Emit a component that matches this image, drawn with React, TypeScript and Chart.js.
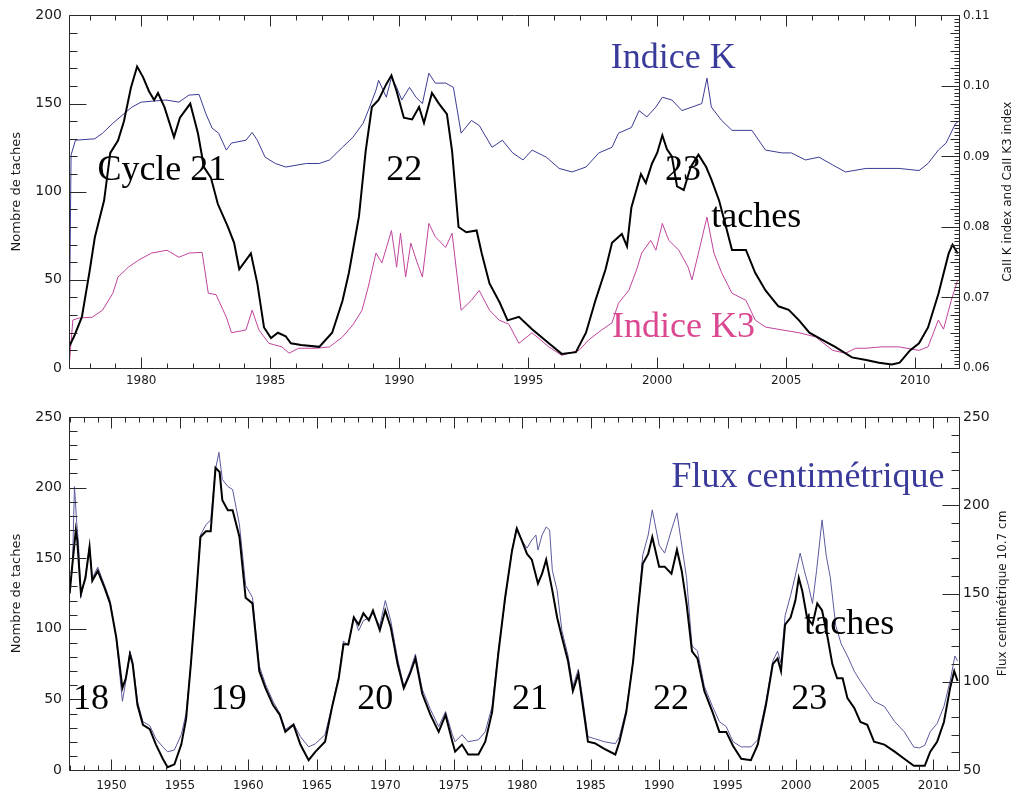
import React, { useEffect, useRef } from "react";
import { Chart, registerables } from "chart.js";

Chart.register(...registerables);

const SERIF = '"Liberation Serif", "Times New Roman", serif';
const SANS = '"DejaVu Sans", Verdana, sans-serif';

type Pt = [number, number];

// ---------- Top panel (1977-2012) ----------
const topSunspots: Pt[] = [
  [1977.2, 12], [1977.4, 18], [1977.7, 29], [1978.0, 55], [1978.2, 74], [1978.56, 95], [1978.8, 122],
  [1979.1, 129], [1979.33, 140], [1979.6, 159], [1979.84, 171], [1980.07, 165], [1980.3, 157],
  [1980.5, 152], [1980.65, 156], [1980.9, 148], [1981.27, 131], [1981.5, 142], [1981.9, 150],
  [1982.2, 133], [1982.43, 114], [1982.7, 108], [1982.97, 93], [1983.36, 80], [1983.6, 71],
  [1983.8, 56], [1984.25, 65], [1984.5, 48], [1984.76, 23], [1985.03, 17], [1985.3, 20], [1985.6, 18],
  [1985.8, 14], [1986.2, 13], [1986.9, 12], [1987.4, 20], [1987.8, 38], [1988.05, 54], [1988.44, 86],
  [1988.7, 123], [1988.94, 148], [1989.2, 152], [1989.5, 161], [1989.7, 166], [1989.9, 157],
  [1990.18, 142], [1990.5, 141], [1990.77, 148], [1990.96, 139], [1991.27, 156], [1991.54, 150],
  [1991.85, 144], [1992.05, 123], [1992.3, 80], [1992.6, 77], [1993.0, 78], [1993.2, 65], [1993.5, 48],
  [1993.9, 37], [1994.2, 27], [1994.64, 29], [1995.15, 22], [1995.8, 14], [1996.3, 8], [1996.85, 9],
  [1997.24, 20], [1997.6, 38], [1998.0, 56], [1998.25, 71], [1998.63, 76], [1998.83, 69], [1999.0, 91],
  [1999.37, 110], [1999.56, 105], [1999.8, 116], [2000.0, 122], [2000.2, 132], [2000.38, 124],
  [2000.57, 120], [2000.77, 103], [2001.03, 101], [2001.3, 114], [2001.6, 121], [2001.9, 114],
  [2002.1, 107], [2002.4, 95], [2002.67, 80], [2002.9, 67], [2003.44, 67], [2003.8, 54], [2004.2, 44],
  [2004.7, 35], [2005.1, 33], [2005.5, 27], [2005.9, 20], [2006.4, 16], [2006.9, 12], [2007.55, 6],
  [2008.1, 4.5], [2008.6, 3], [2009.1, 2], [2009.4, 3], [2009.8, 10], [2010.15, 14], [2010.5, 23],
  [2010.9, 42], [2011.3, 65], [2011.45, 70], [2011.65, 65],
];

const topIndexK: Pt[] = [
  [1977.2, 0.0605], [1977.28, 0.0902], [1977.45, 0.0923], [1978.2, 0.0925], [1978.5, 0.0933],
  [1978.9, 0.0947], [1979.25, 0.0958], [1979.64, 0.097], [1980.0, 0.0977], [1980.96, 0.098],
  [1981.46, 0.0977], [1981.85, 0.0987], [1982.24, 0.0988], [1982.5, 0.0961], [1982.75, 0.094],
  [1983.0, 0.0933], [1983.3, 0.0909], [1983.5, 0.0919], [1984.06, 0.0923], [1984.3, 0.0934],
  [1984.5, 0.0923], [1984.8, 0.0899], [1985.2, 0.089], [1985.6, 0.0885], [1986.4, 0.089],
  [1986.9, 0.089], [1987.3, 0.0895], [1987.8, 0.0913], [1988.2, 0.0927], [1988.6, 0.0947],
  [1988.8, 0.0965], [1989.1, 0.0994], [1989.2, 0.1008], [1989.5, 0.0984], [1989.7, 0.1012],
  [1989.9, 0.0998], [1990.1, 0.098], [1990.4, 0.0998], [1990.65, 0.0984], [1990.9, 0.0975],
  [1991.15, 0.1018], [1991.4, 0.1004], [1991.8, 0.1004], [1992.1, 0.0998], [1992.4, 0.0933],
  [1992.8, 0.0951], [1993.1, 0.0944], [1993.6, 0.0913], [1994.0, 0.0923], [1994.4, 0.0905],
  [1994.8, 0.0895], [1995.15, 0.0909], [1995.7, 0.0899], [1996.2, 0.0883], [1996.7, 0.0878],
  [1997.24, 0.0885], [1997.74, 0.0905], [1998.25, 0.0913], [1998.5, 0.0933], [1999.0, 0.0941],
  [1999.3, 0.0965], [1999.6, 0.0956], [1999.95, 0.097], [2000.2, 0.0984], [2000.57, 0.098],
  [2000.96, 0.0965], [2001.35, 0.097], [2001.73, 0.0975], [2001.93, 0.1011], [2002.1, 0.097],
  [2002.5, 0.0951], [2002.9, 0.0937], [2003.67, 0.0937], [2004.2, 0.0909], [2004.84, 0.0905],
  [2005.2, 0.0905], [2005.75, 0.0895], [2006.27, 0.0899], [2006.8, 0.0888], [2007.3, 0.0878],
  [2008.1, 0.0883], [2009.37, 0.0883], [2010.15, 0.088], [2010.5, 0.089], [2010.9, 0.0909],
  [2011.2, 0.0919], [2011.57, 0.0947], [2011.7, 0.095],
];

const topIndexK3: Pt[] = [
  [1977.2, 0.06], [1977.35, 0.0668], [1977.6, 0.0671], [1978.1, 0.0672], [1978.5, 0.0682],
  [1978.9, 0.0706], [1979.1, 0.0729], [1979.5, 0.0743], [1979.9, 0.0753], [1980.4, 0.0763],
  [1981.0, 0.0767], [1981.46, 0.0757], [1981.85, 0.0763], [1982.36, 0.0764], [1982.6, 0.0706],
  [1982.9, 0.0704], [1983.3, 0.0672], [1983.5, 0.065], [1984.06, 0.0654], [1984.3, 0.0682],
  [1984.56, 0.0654], [1984.95, 0.0635], [1985.45, 0.063], [1985.73, 0.0621], [1986.1, 0.0628],
  [1986.8, 0.0628], [1987.3, 0.063], [1987.8, 0.0644], [1988.2, 0.0661], [1988.56, 0.0682],
  [1988.8, 0.0715], [1989.1, 0.0763], [1989.33, 0.0749], [1989.7, 0.0795], [1989.9, 0.0743],
  [1990.05, 0.0791], [1990.25, 0.0729], [1990.45, 0.0777], [1990.7, 0.0749], [1990.9, 0.0729],
  [1991.15, 0.0805], [1991.4, 0.0786], [1991.8, 0.0771], [1992.05, 0.0791], [1992.4, 0.0682],
  [1992.8, 0.0696], [1993.1, 0.071], [1993.5, 0.0682], [1993.87, 0.0668], [1994.25, 0.0662],
  [1994.64, 0.0635], [1995.15, 0.065], [1995.8, 0.063], [1996.3, 0.0618], [1996.97, 0.0625],
  [1997.35, 0.064], [1997.85, 0.0654], [1998.25, 0.0664], [1998.5, 0.0692], [1998.9, 0.071],
  [1999.2, 0.0739], [1999.4, 0.0763], [1999.75, 0.0781], [1999.95, 0.0767], [2000.2, 0.0805],
  [2000.45, 0.0781], [2000.84, 0.0767], [2001.2, 0.0743], [2001.35, 0.0725], [2001.6, 0.0763],
  [2001.93, 0.0814], [2002.2, 0.0763], [2002.5, 0.0735], [2002.9, 0.0706], [2003.44, 0.0696],
  [2003.8, 0.0668], [2004.2, 0.0658], [2004.84, 0.0654], [2005.5, 0.065], [2006.15, 0.0644],
  [2006.8, 0.0625], [2007.3, 0.0621], [2007.7, 0.0628], [2008.1, 0.0628], [2008.7, 0.063],
  [2009.37, 0.063], [2010.15, 0.0625], [2010.5, 0.063], [2010.9, 0.0668], [2011.1, 0.0655],
  [2011.4, 0.0696], [2011.65, 0.0725],
];

// ---------- Bottom panel (1947-2012) ----------
const bottomSunspots: Pt[] = [
  [1946.95, 125], [1947.1, 141], [1947.4, 170], [1947.5, 163], [1947.77, 125], [1948.1, 136],
  [1948.4, 158], [1948.6, 134], [1949.0, 141], [1949.5, 129], [1949.9, 118], [1950.35, 94],
  [1950.8, 58], [1951.05, 65], [1951.35, 82], [1951.55, 75], [1951.9, 46], [1952.3, 32], [1952.8, 29],
  [1953.25, 18], [1953.75, 8], [1954.1, 2], [1954.6, 4], [1955.1, 18], [1955.45, 36], [1955.8, 75],
  [1956.15, 118], [1956.5, 165], [1956.9, 169], [1957.25, 169], [1957.6, 214], [1957.9, 211],
  [1958.1, 191], [1958.5, 184], [1958.85, 184], [1959.35, 165], [1959.8, 122], [1960.3, 118],
  [1960.8, 70], [1961.25, 58], [1961.8, 46], [1962.3, 39], [1962.7, 27], [1963.3, 32], [1963.8, 18],
  [1964.4, 7], [1964.9, 13], [1965.6, 20], [1966.1, 44], [1966.6, 65], [1966.95, 89], [1967.3, 89],
  [1967.7, 108], [1968.05, 103], [1968.4, 111], [1968.8, 106], [1969.1, 113], [1969.6, 99],
  [1970.0, 113], [1970.4, 101], [1970.9, 75], [1971.35, 58], [1971.8, 68], [1972.2, 79], [1972.7, 54],
  [1973.3, 39], [1973.9, 27], [1974.4, 39], [1974.9, 20], [1975.1, 13], [1975.6, 18], [1976.05, 11],
  [1976.8, 11], [1977.3, 20], [1977.8, 41], [1978.25, 82], [1978.75, 122], [1979.25, 155],
  [1979.6, 171], [1979.95, 163], [1980.35, 153], [1980.7, 149], [1981.15, 132], [1981.45, 139],
  [1981.75, 149], [1982.2, 127], [1982.55, 108], [1982.9, 94], [1983.35, 77], [1983.7, 56],
  [1984.1, 68], [1984.45, 44], [1984.8, 20], [1985.3, 19], [1986.0, 15], [1986.8, 11], [1987.1, 20],
  [1987.6, 41], [1988.1, 77], [1988.45, 113], [1988.8, 146], [1989.2, 153], [1989.5, 165],
  [1990.0, 144], [1990.4, 144], [1990.9, 139], [1991.3, 156], [1991.65, 141], [1992.0, 118],
  [1992.4, 84], [1992.8, 79], [1993.3, 56], [1993.9, 41], [1994.4, 27], [1994.9, 27], [1995.4, 17],
  [1996.0, 8], [1996.7, 7], [1997.2, 18], [1997.8, 46], [1998.3, 75], [1998.65, 79], [1998.9, 70],
  [1999.2, 103], [1999.6, 108], [1999.95, 120], [2000.2, 136], [2000.45, 127], [2000.8, 108],
  [2001.2, 103], [2001.55, 118], [2001.9, 113], [2002.3, 94], [2002.65, 75], [2003.0, 65],
  [2003.4, 65], [2003.75, 51], [2004.25, 44], [2004.7, 34], [2005.2, 32], [2005.7, 20], [2006.45, 18],
  [2007.2, 13], [2007.9, 8], [2008.6, 3], [2009.4, 3], [2009.8, 13], [2010.3, 20], [2010.8, 34],
  [2011.25, 58], [2011.55, 70], [2011.8, 63],
];

const bottomFlux: Pt[] = [
  [1946.95, 151.7], [1947.15, 164.9], [1947.3, 210.6], [1947.45, 191.7], [1947.6, 177.4],
  [1947.77, 147.7], [1948.1, 160.3], [1948.4, 177.4], [1948.6, 158.6], [1949.0, 164.9],
  [1949.5, 154.6], [1949.9, 146], [1950.35, 124.9], [1950.8, 88.9], [1951.05, 100.3],
  [1951.35, 117.4], [1951.55, 111.7], [1951.9, 88.9], [1952.3, 77.4], [1952.8, 75.1], [1953.25, 67.7],
  [1953.75, 63.1], [1954.1, 60.3], [1954.6, 61.4], [1955.1, 70], [1955.45, 82], [1955.8, 110],
  [1956.15, 144.3], [1956.5, 183.1], [1956.9, 188.9], [1957.25, 191.7], [1957.6, 220.3],
  [1957.85, 230], [1958.1, 214.6], [1958.5, 210.6], [1958.85, 208.9], [1959.35, 188.9],
  [1959.8, 154.6], [1960.3, 147.7], [1960.8, 108.9], [1961.25, 98.6], [1961.8, 88.9], [1962.3, 82],
  [1962.7, 72.9], [1963.3, 76.3], [1963.8, 68.9], [1964.4, 63.1], [1964.9, 64.9], [1965.6, 70],
  [1966.1, 86], [1966.6, 103.1], [1966.95, 123.1], [1967.3, 120.3], [1967.7, 137.4], [1968.05, 128.9],
  [1968.4, 134.6], [1968.8, 136.3], [1969.1, 138.6], [1969.6, 131.7], [1970.0, 146], [1970.4, 134.6],
  [1970.9, 112.9], [1971.35, 97.4], [1971.8, 106], [1972.2, 115.7], [1972.7, 95.7], [1973.3, 84.3],
  [1973.9, 74.6], [1974.4, 83.1], [1974.9, 70], [1975.1, 66], [1975.6, 70], [1976.05, 66],
  [1976.8, 67.1], [1977.3, 71.7], [1977.8, 86], [1978.25, 117.4], [1978.75, 146], [1979.25, 174.6],
  [1979.6, 187.7], [1979.95, 180.3], [1980.35, 175.7], [1980.7, 180.3], [1981.0, 183.1],
  [1981.15, 174.6], [1981.45, 183.1], [1981.75, 187.7], [1982.0, 186], [1982.2, 163.1],
  [1982.55, 151.7], [1982.9, 128.9], [1983.35, 114.6], [1983.7, 97.4], [1984.1, 107.1],
  [1984.45, 88.9], [1984.8, 68.9], [1985.3, 67.7], [1986.0, 66], [1986.8, 64.9], [1987.1, 68.9],
  [1987.6, 84.3], [1988.1, 111.7], [1988.45, 140.3], [1988.8, 171.7], [1989.2, 183.1],
  [1989.5, 197.4], [1990.0, 177.4], [1990.4, 172.9], [1990.9, 186], [1991.3, 195.7], [1991.65, 177.4],
  [1992.0, 159.1], [1992.4, 120.3], [1992.8, 117.4], [1993.3, 97.4], [1993.9, 86], [1994.4, 77.4],
  [1994.9, 74.6], [1995.4, 66], [1996.0, 63.1], [1996.7, 63.1], [1997.2, 67.1], [1997.8, 88.9],
  [1998.3, 111.7], [1998.65, 117.4], [1998.9, 110.6], [1999.2, 137.4], [1999.6, 148.9],
  [1999.95, 160.3], [2000.3, 172.9], [2000.6, 163.1], [2000.9, 154.6], [2001.2, 144.3],
  [2001.5, 163.1], [2001.9, 191.7], [2002.2, 171.7], [2002.5, 159.1], [2002.9, 131.7],
  [2003.3, 121.4], [2003.75, 114.6], [2004.25, 106], [2004.7, 100.3], [2005.2, 94.6], [2005.7, 88.9],
  [2006.45, 86], [2007.2, 77.4], [2007.9, 71.7], [2008.6, 63], [2009.0, 62.5], [2009.4, 64],
  [2009.8, 71.7], [2010.3, 76.3], [2010.8, 86], [2011.25, 100.3], [2011.6, 114.6], [2011.8, 111.7],
];

const topXTicks = [1980, 1985, 1990, 1995, 2000, 2005, 2010];
const bottomXTicks = [1950, 1955, 1960, 1965, 1970, 1975, 1980, 1985, 1990, 1995, 2000, 2005, 2010];

const toXY = (pts: Pt[]) => pts.map(([x, y]) => ({ x, y }));

type TickSpec = { scale: string; side: "x" | "left" | "right"; step: number; len: number };
type Note = { text: string; x: number; y: number; color: string };

function idlPlugin(name: string, ticks: TickSpec[], notes: Note[], rightTitle: string, rightTitleOffset: number) {
  return {
    id: "idl-" + name,
    afterDraw(chart: any) {
      const { ctx, chartArea: a, scales } = chart;
      const L = Math.round(a.left) + 0.5;
      const R = Math.round(a.right) + 0.5;
      const T = Math.round(a.top) + 0.5;
      const B = Math.round(a.bottom) + 0.5;
      ctx.save();
      ctx.strokeStyle = "#2a2a2a";
      ctx.lineWidth = 1;
      ctx.beginPath();
      ctx.moveTo(L, T);
      ctx.lineTo(R, T);
      ctx.lineTo(R, B);
      ctx.lineTo(L, B);
      ctx.closePath();
      for (const t of ticks) {
        const s = scales[t.scale];
        const i0 = Math.ceil(s.min / t.step - 1e-6);
        const i1 = Math.floor(s.max / t.step + 1e-6);
        for (let i = i0; i <= i1; i++) {
          const v = i * t.step;
          const p = Math.round(s.getPixelForValue(v)) + 0.5;
          if (t.side === "x") {
            ctx.moveTo(p, B);
            ctx.lineTo(p, B - t.len);
            ctx.moveTo(p, T);
            ctx.lineTo(p, T + t.len);
          } else if (t.side === "left") {
            ctx.moveTo(L, p);
            ctx.lineTo(L + t.len, p);
          } else {
            ctx.moveTo(R, p);
            ctx.lineTo(R - t.len, p);
          }
        }
      }
      ctx.stroke();

      // annotations in data coordinates
      ctx.font = `36px ${SERIF}`;
      ctx.textAlign = "left";
      ctx.textBaseline = "alphabetic";
      for (const n of notes) {
        ctx.fillStyle = n.color;
        ctx.fillText(n.text, scales.x.getPixelForValue(n.x), scales.y.getPixelForValue(n.y));
      }

      // right axis title (reads bottom-to-top)
      ctx.translate(a.right + rightTitleOffset, (a.top + a.bottom) / 2);
      ctx.rotate(-Math.PI / 2);
      ctx.font = `12px ${SANS}`;
      ctx.fillStyle = "#1a1a1a";
      ctx.textAlign = "center";
      ctx.textBaseline = "middle";
      ctx.fillText(rightTitle, 0, 0);
      ctx.restore();
    },
  };
}

const tickColor = "#1a1a1a";

function baseOptions(xMin: number, xMax: number, xTicks: number[], xHeight: number, xPad: number, topPad: number) {
  return {
    responsive: false,
    animation: false,
    layout: { padding: { top: topPad, left: 0, right: 0, bottom: 0 } },
    elements: { point: { radius: 0 }, line: { tension: 0 } },
    plugins: { legend: { display: false }, tooltip: { enabled: false } },
    scales: {
      x: {
        type: "linear",
        position: "bottom",
        min: xMin,
        max: xMax,
        grid: { display: false, drawTicks: false },
        border: { display: false },
        afterBuildTicks: (s: any) => {
          s.ticks = xTicks.map((v) => ({ value: v }));
        },
        ticks: {
          autoSkip: false,
          maxRotation: 0,
          padding: xPad,
          color: tickColor,
          font: { family: SANS, size: 12 },
          callback: (v: any) => String(v),
        },
        afterFit: (s: any) => {
          s.height = xHeight;
        },
      },
    },
  };
}

function TopChart() {
  const ref = useRef<HTMLCanvasElement | null>(null);
  useEffect(() => {
    if (!ref.current) return;
    const opts: any = baseOptions(1977.2, 2011.7, topXTicks, 22, 6, 15);
    opts.scales.y = {
      type: "linear",
      position: "left",
      min: 0,
      max: 200,
      grid: { display: false, drawTicks: false },
      border: { display: false },
      ticks: { stepSize: 50, padding: 7, color: tickColor, font: { family: SANS, size: 14 } },
      title: {
        display: true,
        text: "Nombre de taches",
        color: tickColor,
        font: { family: SANS, size: 13 },
        padding: { top: 9, bottom: 0 },
      },
      afterFit: (s: any) => {
        s.width = 69;
      },
    };
    opts.scales.y1 = {
      type: "linear",
      position: "right",
      min: 0.06,
      max: 0.11,
      grid: { display: false, drawTicks: false },
      border: { display: false },
      ticks: {
        stepSize: 0.01,
        padding: 4,
        color: tickColor,
        font: { family: SANS, size: 12 },
        callback: (v: any) => Number(v).toFixed(2),
      },
      afterFit: (s: any) => {
        s.width = 56;
      },
    };
    const chart = new Chart(ref.current, {
      type: "line",
      data: {
        datasets: [
          { label: "taches", data: toXY(topSunspots), yAxisID: "y", borderColor: "#000000", borderWidth: 2 },
          { label: "Indice K", data: toXY(topIndexK), yAxisID: "y1", borderColor: "#3c3c94", borderWidth: 1 },
          { label: "Indice K3", data: toXY(topIndexK3), yAxisID: "y1", borderColor: "#c0449c", borderWidth: 1 },
        ],
      },
      options: opts,
      plugins: [
        idlPlugin(
          "top",
          [
            { scale: "x", side: "x", step: 1, len: 5 },
            { scale: "x", side: "x", step: 5, len: 11 },
            { scale: "y", side: "left", step: 10, len: 8 },
            { scale: "y", side: "left", step: 50, len: 17 },
            { scale: "y1", side: "right", step: 0.0005, len: 5 },
            { scale: "y1", side: "right", step: 0.0025, len: 9 },
            { scale: "y1", side: "right", step: 0.01, len: 18 },
          ],
          [
            { text: "Cycle 21", x: 1978.3, y: 106.5, color: "#000000" },
            { text: "22", x: 1989.5, y: 106.5, color: "#000000" },
            { text: "23", x: 2000.3, y: 106.5, color: "#000000" },
            { text: "taches", x: 2002.1, y: 80, color: "#000000" },
            { text: "Indice K", x: 1998.2, y: 170, color: "#3a3a9a" },
            { text: "Indice K3", x: 1998.25, y: 17.6, color: "#db4790" },
          ],
          "CaII K index and CaII K3 index",
          49
        ),
      ],
    } as any);
    return () => chart.destroy();
  }, []);
  return <canvas ref={ref} width={1015} height={390} style={{ position: "absolute", left: 0, top: 0 }} />;
}

function BottomChart() {
  const ref = useRef<HTMLCanvasElement | null>(null);
  useEffect(() => {
    if (!ref.current) return;
    const opts: any = baseOptions(1946.9, 2011.9, bottomXTicks, 23, 9, 27);
    opts.scales.y = {
      type: "linear",
      position: "left",
      min: 0,
      max: 250,
      grid: { display: false, drawTicks: false },
      border: { display: false },
      ticks: { stepSize: 50, padding: 7, color: tickColor, font: { family: SANS, size: 14 } },
      title: {
        display: true,
        text: "Nombre de taches",
        color: tickColor,
        font: { family: SANS, size: 13 },
        padding: { top: 9, bottom: 0 },
      },
      afterFit: (s: any) => {
        s.width = 69;
      },
    };
    opts.scales.y1 = {
      type: "linear",
      position: "right",
      min: 50,
      max: 250,
      grid: { display: false, drawTicks: false },
      border: { display: false },
      ticks: { stepSize: 50, padding: 4, color: tickColor, font: { family: SANS, size: 14 } },
      afterFit: (s: any) => {
        s.width = 56;
      },
    };
    const chart = new Chart(ref.current, {
      type: "line",
      data: {
        datasets: [
          { label: "taches", data: toXY(bottomSunspots), yAxisID: "y", borderColor: "#000000", borderWidth: 2 },
          { label: "Flux centimétrique", data: toXY(bottomFlux), yAxisID: "y1", borderColor: "#5a5a9e", borderWidth: 1 },
        ],
      },
      options: opts,
      plugins: [
        idlPlugin(
          "bottom",
          [
            { scale: "x", side: "x", step: 1, len: 5 },
            { scale: "x", side: "x", step: 5, len: 11 },
            { scale: "y", side: "left", step: 10, len: 8 },
            { scale: "y", side: "left", step: 50, len: 17 },
            { scale: "y1", side: "right", step: 10, len: 8 },
            { scale: "y1", side: "right", step: 50, len: 17 },
          ],
          [
            { text: "Flux centimétrique", x: 1990.9, y: 200.7, color: "#3a3a9a" },
            { text: "taches", x: 2000.6, y: 96.4, color: "#000000" },
            { text: "18", x: 1947.2, y: 42.9, color: "#000000" },
            { text: "19", x: 1957.25, y: 42.9, color: "#000000" },
            { text: "20", x: 1967.95, y: 42.9, color: "#000000" },
            { text: "21", x: 1979.25, y: 42.9, color: "#000000" },
            { text: "22", x: 1989.55, y: 42.9, color: "#000000" },
            { text: "23", x: 1999.65, y: 42.9, color: "#000000" },
          ],
          "Flux centimétrique 10.7 cm",
          44
        ),
      ],
    } as any);
    return () => chart.destroy();
  }, []);
  return <canvas ref={ref} width={1015} height={403} style={{ position: "absolute", left: 0, top: 390 }} />;
}

export default function App() {
  return (
    <div style={{ position: "absolute", left: 0, top: 0, width: 1015, height: 793, background: "#ffffff", overflow: "hidden" }}>
      <TopChart />
      <BottomChart />
    </div>
  );
}
